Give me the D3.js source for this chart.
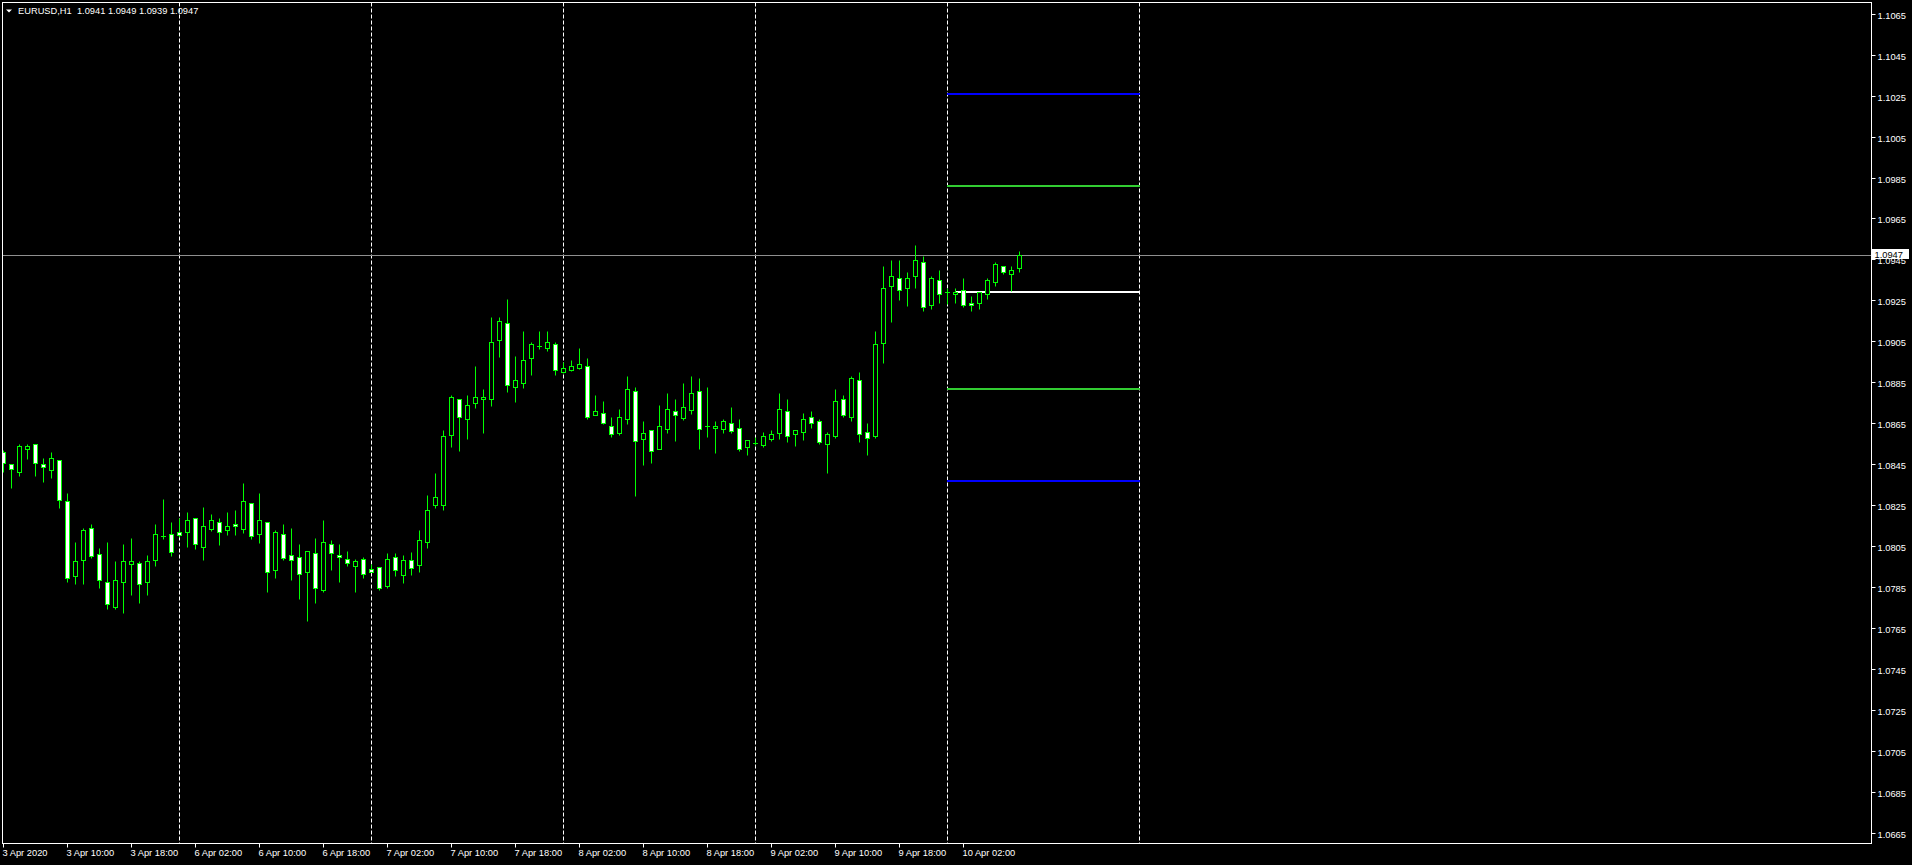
<!DOCTYPE html>
<html><head><meta charset="utf-8">
<script src="https://cdn.jsdelivr.net/npm/d3@7/dist/d3.min.js"></script>
<style>
html,body{margin:0;padding:0;background:#000;overflow:hidden}
svg text{font-family:"Liberation Sans",Arial,sans-serif;font-size:9.3px;fill:#fff}
</style>
</head><body>
<svg id="c" width="1912" height="865"></svg>
<script>
// ---------------- DATA ----------------
const headerText = "EURUSD,H1  1.0941 1.0949 1.0939 1.0947";
const lastPrice = 1.0947;

const opens = [1.08509,1.08449,1.08413,1.08525,1.08548,1.08449,1.08423,1.08469,1.08268,1.07905,
1.07983,1.08137,1.08012,1.07876,1.07754,1.07876,1.07964,1.07966,1.07876,1.07983,
1.08097,1.08107,1.08117,1.08117,1.08185,1.08047,1.08135,1.08166,1.08127,1.08156,
1.08135,1.08259,1.08107,1.08166,1.07934,1.08107,1.08005,1.07995,1.07924,1.08014,
1.07837,1.08058,1.08005,1.07985,1.07954,1.07985,1.07936,1.07946,1.07856,1.07995,
1.07908,1.07981,1.07957,1.08069,1.08250,1.08250,1.08594,1.08767,1.08669,1.08747,
1.08767,1.08767,1.09058,1.09138,1.08825,1.08845,1.08967,1.09026,1.09016,1.09035,
1.08899,1.08908,1.08918,1.08928,1.08689,1.08698,1.08635,1.08603,1.08669,1.08806,
1.08574,1.08615,1.08525,1.08623,1.08708,1.08677,1.08716,1.08806,1.08635,1.08625,
1.08623,1.08649,1.08625,1.08535,1.08555,1.08545,1.08574,1.08603,1.08708,1.08596,
1.08605,1.08679,1.08659,1.08547,1.08586,1.08767,1.08679,1.08859,1.08605,1.08586,
1.09043,1.09319,1.09358,1.09309,1.09368,1.09436,1.09226,1.09348,1.09289,1.09280,
1.09299,1.09236,1.09236,1.09280,1.09338,1.09416,1.09377,1.09410];

const highs = [1.08519,1.08449,1.08548,1.08548,1.08548,1.08480,1.08509,1.08469,1.08307,1.08070,
1.08137,1.08156,1.08039,1.08068,1.07975,1.08058,1.08089,1.07975,1.08005,1.08156,
1.08280,1.08167,1.08187,1.08216,1.08185,1.08239,1.08206,1.08185,1.08215,1.08224,
1.08356,1.08259,1.08307,1.08166,1.08127,1.08156,1.08137,1.08058,1.08024,1.08089,
1.08177,1.08078,1.08058,1.08024,1.07985,1.07995,1.07964,1.07946,1.08014,1.08014,
1.08006,1.08021,1.08128,1.08299,1.08408,1.08617,1.08788,1.08767,1.08788,1.08929,
1.08817,1.09169,1.09169,1.09257,1.08978,1.09100,1.09045,1.09100,1.09100,1.09045,
1.08947,1.08957,1.09016,1.08967,1.08788,1.08757,1.08679,1.08718,1.08879,1.08825,
1.08659,1.08615,1.08737,1.08797,1.08768,1.08846,1.08879,1.08871,1.08827,1.08659,
1.08669,1.08729,1.08669,1.08566,1.08584,1.08605,1.08615,1.08797,1.08768,1.08615,
1.08698,1.08708,1.08669,1.08605,1.08816,1.08786,1.08879,1.08899,1.08649,1.09100,
1.09418,1.09446,1.09446,1.09387,1.09520,1.09468,1.09368,1.09397,1.09309,1.09309,
1.09358,1.09273,1.09289,1.09358,1.09436,1.09416,1.09416,1.09490];

const lows = [1.08412,1.08335,1.08393,1.08477,1.08393,1.08364,1.08384,1.08237,1.07876,1.07866,
1.07866,1.07993,1.07846,1.07744,1.07744,1.07724,1.07812,1.07773,1.07812,1.07954,
1.08086,1.08003,1.08095,1.08047,1.08037,1.07983,1.08125,1.08056,1.08105,1.08105,
1.08115,1.08086,1.08066,1.07827,1.07895,1.07983,1.07885,1.07793,1.07684,1.07773,
1.07827,1.07934,1.07876,1.07954,1.07827,1.07895,1.07924,1.07837,1.07846,1.07905,
1.07869,1.07908,1.07923,1.08040,1.08236,1.08226,1.08535,1.08516,1.08574,1.08726,
1.08603,1.08735,1.08975,1.08804,1.08755,1.08823,1.08887,1.09014,1.09004,1.08887,
1.08894,1.08905,1.08916,1.08669,1.08689,1.08647,1.08584,1.08594,1.08647,1.08294,
1.08447,1.08457,1.08525,1.08603,1.08564,1.08667,1.08696,1.08525,1.08584,1.08506,
1.08603,1.08603,1.08516,1.08496,1.08543,1.08535,1.08564,1.08574,1.08557,1.08537,
1.08566,1.08625,1.08547,1.08405,1.08576,1.08679,1.08659,1.08557,1.08496,1.08576,
1.08945,1.09146,1.09253,1.09224,1.09309,1.09197,1.09206,1.09236,1.09232,1.09236,
1.09216,1.09197,1.09206,1.09255,1.09319,1.09377,1.09294,1.09390];

const closes = [1.08455,1.08425,1.08539,1.08539,1.08457,1.08434,1.08478,1.08276,1.07895,1.07975,
1.08127,1.08003,1.07885,1.07765,1.07885,1.07975,1.07975,1.07866,1.07975,1.08107,
1.08097,1.08022,1.08105,1.08176,1.08058,1.08146,1.08176,1.08117,1.08146,1.08146,
1.08268,1.08097,1.08176,1.07924,1.08117,1.07993,1.07983,1.07915,1.08024,1.07846,
1.08068,1.08014,1.07995,1.07966,1.07975,1.07915,1.07924,1.07846,1.07985,1.07934,
1.07981,1.07942,1.08079,1.08226,1.08288,1.08586,1.08776,1.08679,1.08737,1.08776,
1.08776,1.09045,1.09148,1.08835,1.08859,1.08957,1.09035,1.09026,1.09045,1.08908,
1.08918,1.08928,1.08938,1.08679,1.08708,1.08649,1.08596,1.08679,1.08816,1.08564,
1.08603,1.08516,1.08635,1.08718,1.08689,1.08728,1.08796,1.08623,1.08635,1.08635,
1.08659,1.08613,1.08525,1.08566,1.08555,1.08586,1.08596,1.08718,1.08586,1.08615,
1.08669,1.08649,1.08557,1.08596,1.08757,1.08689,1.08869,1.08596,1.08576,1.09035,
1.09309,1.09368,1.09299,1.09358,1.09446,1.09216,1.09358,1.09280,1.09289,1.09289,
1.09226,1.09226,1.09289,1.09348,1.09426,1.09387,1.09397,1.09470];

// time axis: bar index -> label (H1 bars, first bar = 3 Apr 2020 02:00)
const timeTickIndex = [0,8,16,24,32,40,48,56,64,72,80,88,96,104,112,120];
const timeTickLabels = ["3 Apr 2020","3 Apr 10:00","3 Apr 18:00","6 Apr 02:00","6 Apr 10:00","6 Apr 18:00",
"7 Apr 02:00","7 Apr 10:00","7 Apr 18:00","8 Apr 02:00","8 Apr 10:00","8 Apr 18:00",
"9 Apr 02:00","9 Apr 10:00","9 Apr 18:00","10 Apr 02:00"];
// day separators (00:00 bars)
const daySeparatorIndex = [22,46,70,94,118,142];

const priceTickLabels = ["1.1065","1.1045","1.1025","1.1005","1.0985","1.0965","1.0945","1.0925","1.0905",
"1.0885","1.0865","1.0845","1.0825","1.0805","1.0785","1.0765","1.0745","1.0725","1.0705","1.0685","1.0665"];

// pivot-style levels for 10 Apr
const levelValues = [1.10258, 1.09809, 1.09292, 1.08818, 1.08369];
const levelStart  = [118, 118, 119, 118, 118];
const levelEnd    = [142, 142, 142, 142, 142];

// ---------------- STYLE ----------------
const levelColors = ["#0000ff", "#32cd32", "#ffffff", "#32cd32", "#0000ff"];
const W = 1912, H = 865;
const plot = {left: 2.5, top: 2.5, right: 1871.5, bottom: 843.5};
const candleColor = "#00ff00";

// ---------------- SCALES ----------------
const x = d3.scaleLinear().domain([0, 1]).range([3.3, 11.3]); // 8 px per H1 bar
const y = d3.scaleLinear().domain([1.06597, 1.10705]).range([plot.bottom, plot.top]);
const cx = i => Math.floor(x(i)) + 0.5;
const py = v => Math.round(y(v)) + 0.5;

const svg = d3.select("#c");
svg.append("rect").attr("width", W).attr("height", H).attr("fill", "#000");

svg.append("defs").append("clipPath").attr("id", "pc")
  .append("rect").attr("x", plot.left).attr("y", plot.top)
  .attr("width", plot.right - plot.left).attr("height", plot.bottom - plot.top);

const g = svg.append("g").attr("clip-path", "url(#pc)");

// day separators
g.selectAll("line.sep").data(daySeparatorIndex).join("line")
  .attr("class", "sep")
  .attr("x1", d => cx(d)).attr("x2", d => cx(d))
  .attr("y1", plot.top).attr("y2", plot.bottom)
  .attr("stroke", "#fff").attr("stroke-width", 1).attr("stroke-dasharray", "4,2");

// current price line
g.append("line")
  .attr("x1", plot.left).attr("x2", plot.right)
  .attr("y1", py(lastPrice)).attr("y2", py(lastPrice))
  .attr("stroke", "#8f8f8f").attr("stroke-width", 1);

// level lines
levelValues.forEach((v, k) => {
  g.append("line")
    .attr("x1", cx(levelStart[k]) - 0.5).attr("x2", cx(levelEnd[k]) + 0.5)
    .attr("y1", Math.round(y(v))).attr("y2", Math.round(y(v)))
    .attr("stroke", levelColors[k]).attr("stroke-width", 2);
});

// candles
const bars = d3.range(opens.length).map(i => ({i, o: opens[i], h: highs[i], l: lows[i], c: closes[i]}));
const cg = g.append("g");
bars.forEach(b => {
  const xc = cx(b.i);
  cg.append("line").attr("x1", xc).attr("x2", xc)
    .attr("y1", py(b.h)).attr("y2", py(b.l))
    .attr("stroke", candleColor).attr("stroke-width", 1);
  const yo = py(b.o), yc = py(b.c);
  const top = Math.min(yo, yc), bot = Math.max(yo, yc);
  if (bot - top < 1) {
    cg.append("line").attr("x1", xc - 2.5).attr("x2", xc + 2.5)
      .attr("y1", top).attr("y2", top)
      .attr("stroke", candleColor).attr("stroke-width", 1);
  } else {
    cg.append("rect").attr("x", xc - 2).attr("y", top)
      .attr("width", 4).attr("height", bot - top)
      .attr("fill", b.c >= b.o ? "#000" : "#fff")
      .attr("stroke", candleColor).attr("stroke-width", 1);
  }
});

// plot border
svg.append("rect").attr("x", plot.left).attr("y", plot.top)
  .attr("width", plot.right - plot.left).attr("height", plot.bottom - plot.top)
  .attr("fill", "none").attr("stroke", "#fff").attr("stroke-width", 1);

// price axis
const yAxis = d3.axisRight(y)
  .tickValues(priceTickLabels.map(Number))
  .tickSize(4).tickPadding(2)
  .tickFormat((d, k) => priceTickLabels[k]);
const ya = svg.append("g").attr("transform", `translate(${plot.right},0)`).call(yAxis);
ya.select(".domain").remove();
ya.selectAll(".tick").attr("transform", d => `translate(0,${py(d)})`);
ya.selectAll(".tick line").attr("stroke", "#fff");
ya.selectAll(".tick text").attr("x", 6).attr("dy", null).attr("y", 4.8)
  .attr("fill", "#fff").attr("font-family", null).attr("font-size", null);

// time axis
const xAxis = d3.axisBottom(x)
  .tickValues(timeTickIndex)
  .tickSize(4).tickPadding(2)
  .tickFormat((d, k) => timeTickLabels[k]);
const xa = svg.append("g").attr("transform", `translate(0,${plot.bottom})`).call(xAxis);
xa.select(".domain").remove();
xa.selectAll(".tick").attr("transform", d => `translate(${cx(d)},0)`);
xa.selectAll(".tick line").attr("stroke", "#fff");
xa.selectAll(".tick text").attr("text-anchor", "start").attr("x", -1).attr("dy", null).attr("y", 12.5)
  .attr("fill", "#fff").attr("font-family", null).attr("font-size", null);

// current price tag
const tagY = py(lastPrice);
svg.append("rect").attr("x", 1872).attr("y", tagY - 6.5).attr("width", 37).attr("height", 10)
  .attr("fill", "#fff");
svg.append("text").attr("x", 1874.5).attr("y", tagY + 2.2).style("fill", "#000").text(lastPrice.toFixed(4));

// header
svg.append("path").attr("d", "M6,9.5 L12,9.5 L9,12.5 Z").attr("fill", "#fff");
svg.append("text").attr("x", 18).attr("y", 14).attr("xml:space", "preserve")
  .style("white-space", "pre").text(headerText);
</script>
</body></html>
